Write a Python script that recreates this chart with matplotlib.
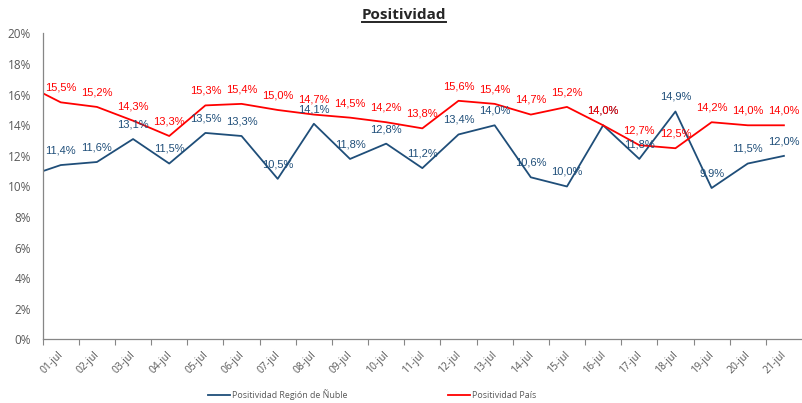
import matplotlib
matplotlib.use("Agg")
import matplotlib.pyplot as plt
from matplotlib import font_manager
from matplotlib.lines import Line2D
from matplotlib.ticker import FuncFormatter, FixedLocator
import matplotlib.transforms as mtransforms
import numpy as np

# data (%), first value of each series is the point drawn on the left axis edge
dias = ["01-jul", "02-jul", "03-jul", "04-jul", "05-jul", "06-jul", "07-jul",
        "08-jul", "09-jul", "10-jul", "11-jul", "12-jul", "13-jul", "14-jul",
        "15-jul", "16-jul", "17-jul", "18-jul", "19-jul", "20-jul", "21-jul"]
nuble_inicio = 11.0
pais_inicio = 16.1
nuble = [11.4, 11.6, 13.1, 11.5, 13.5, 13.3, 10.5, 14.1, 11.8, 12.8, 11.2,
         13.4, 14.0, 10.6, 10.0, 14.0, 11.8, 14.9, 9.9, 11.5, 12.0]
pais = [15.5, 15.2, 14.3, 13.3, 15.3, 15.4, 15.0, 14.7, 14.5, 14.2, 13.8,
        15.6, 15.4, 14.7, 15.2, 14.0, 12.7, 12.5, 14.2, 14.0, 14.0]

AZUL = "#1F4E79"
ROJO = "#FF0000"
GRIS = "#595959"

# narrow font for the data labels if there is one
try:
    font_manager.findfont("Liberation Sans Narrow", fallback_to_default=False)
    etiqueta = {"family": "Liberation Sans Narrow", "fontsize": 9.3}
except Exception:
    etiqueta = {"family": "Liberation Sans", "fontsize": 8.0}

fig = plt.figure(figsize=(8.02, 4.03), dpi=100)
ax = fig.add_axes([0.0532, 0.1576, 0.9468, 0.7593])

x = np.arange(len(dias))
xs = np.concatenate([[-0.5], x])

ax.plot(xs, np.array([nuble_inicio] + nuble) / 100, color=AZUL, lw=1.3,
        label="Positividad Región de Ñuble")
ax.plot(xs, np.array([pais_inicio] + pais) / 100, color=ROJO, lw=1.3,
        label="Positividad País")

def fmt(v):
    return ("%.1f%%" % v).replace(".", ",")

for xi, v in zip(x, nuble):
    ax.annotate(fmt(v), (xi, v / 100), xytext=(0, 10.5), textcoords="offset points",
                ha="center", va="center", color=AZUL, **etiqueta)
for xi, v in zip(x, pais):
    ax.annotate(fmt(v), (xi, v / 100), xytext=(0, 10.5), textcoords="offset points",
                ha="center", va="center", color=ROJO, **etiqueta)

ax.set_xlim(-0.5, 20.5)
ax.set_ylim(0, 0.20)
ax.set_yticks(np.arange(0, 0.201, 0.02))
ax.yaxis.set_major_formatter(FuncFormatter(lambda v, p: "%d%%" % round(v * 100)))
ax.tick_params(axis="y", length=0, pad=8.5, labelsize=8.5, labelcolor=GRIS)
for lab in ax.get_yticklabels():
    lab.set_family("Open Sans")

ax.set_xticks(x)
ax.set_xticklabels(dias, rotation=45, ha="right", rotation_mode="anchor",
                   family="Open Sans", fontsize=7.5, color=GRIS)
ax.tick_params(axis="x", which="major", length=0, pad=7)
ax.xaxis.set_minor_locator(FixedLocator(np.arange(-0.5, 20.0, 1.0)))
ax.tick_params(axis="x", which="minor", length=4.5, width=0.8, color="#868686")
offset = mtransforms.ScaledTranslation(-3 / 100, 0, fig.dpi_scale_trans)
for lab in ax.get_xticklabels():
    lab.set_transform(lab.get_transform() + offset)

for s in ["top", "right"]:
    ax.spines[s].set_visible(False)
for s in ["left", "bottom"]:
    ax.spines[s].set_color("#868686")
    ax.spines[s].set_linewidth(0.9)

fig.legend(loc="center", bbox_to_anchor=(0.4635, 0.02), ncol=2, frameon=False,
           prop={"family": "Open Sans", "size": 6.4}, labelcolor=GRIS,
           handlelength=2.5, handletextpad=0.2, columnspacing=11.3)

titulo = fig.text(0.504, 0.962, "Positividad", ha="center", va="center",
                  family="Open Sans", fontweight="bold", fontsize=11, color="#262626")
fig.canvas.draw()
bb = titulo.get_window_extent().transformed(fig.transFigure.inverted())
fig.add_artist(Line2D([bb.x0, bb.x1], [bb.y0 + 0.002, bb.y0 + 0.002],
                      transform=fig.transFigure, color="#262626", lw=1.4))

fig.savefig("out.png", dpi=100)
